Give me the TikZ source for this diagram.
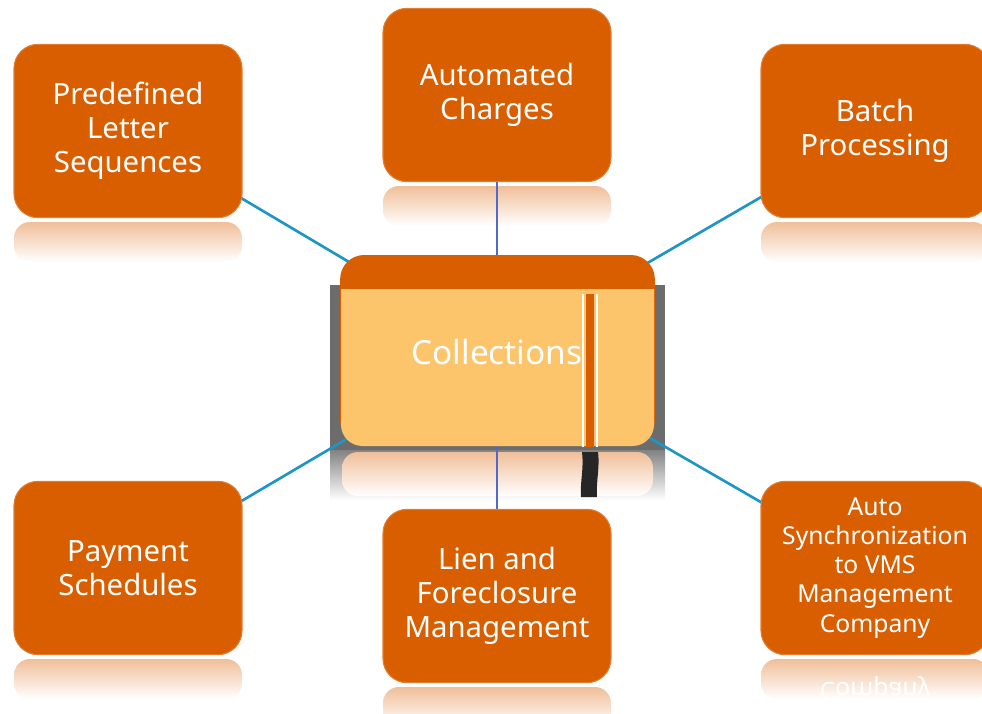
\documentclass[tikz,border=0pt]{standalone}
\usepackage{fontspec}
\setmainfont{Noto Sans}
\usetikzlibrary{backgrounds}
\definecolor{boxorange}{RGB}{217,94,0}
\definecolor{paleorange}{RGB}{252,197,107}
\definecolor{spokecol}{RGB}{30,150,196}
\definecolor{stemcol}{RGB}{84,104,204}
\definecolor{hubgray}{RGB}{108,108,108}

\begin{document}
\begin{tikzpicture}[x=.75pt,y=-.75pt]
\tikzset{every node/.style={align=center, text=white, inner sep=0pt, outer sep=0pt}}
\tikzset{topic/.style={fill=boxorange, draw=boxorange!80!white, line width=.8pt, rounded corners=18pt, minimum width=171pt, minimum height=130pt, font=\fontsize{22}{25.5}\selectfont}}
\tikzset{mirror/.style={top color=boxorange!40, bottom color=white, rounded corners=12pt, minimum width=171pt, minimum height=30pt}}
\tikzset{spoke/.style={draw=spokecol, line width=2pt}}
\tikzset{stem/.style={draw=stemcol, line width=1.6pt}}
\useasboundingbox (0,0) rectangle (982,714);
\clip (0,0) rectangle (982,714);

%%%%%% outer topics
\node(letters)at(128,131)[topic]{Predefined\\Letter\\Sequences};
\node(charges)at(497,95)[topic]{Automated\\Charges};
\node(batch)at(875,131)[topic]{Batch\\Processing};
\node(payment)at(128,568)[topic]{Payment\\Schedules};
\node(lien)at(497,596)[topic]{Lien and\\Foreclosure\\Management};
\node(vms)at(875,568)[topic,font=\fontsize{18.5}{21.8}\selectfont]{Auto\\Synchronization\\to VMS\\Management\\Company};

%%%%%% central topic
\node(hub)at(497.5,350)[fill=boxorange,rounded corners=18pt,minimum width=236pt,minimum height=142.5pt]{};
\fill[paleorange] (341,289) [rounded corners=16pt] -- (341,446) -- (654,446) [sharp corners] -- (654,289) -- cycle;
\fill[boxorange] (586,294) rectangle (594,447);
\draw[white,line width=1pt] (583,294) -- (583,447) (597,294) -- (597,447);
\node(hubtext)at(497,352)[font=\fontsize{25}{30}\selectfont]{Collections};

%%%%%% reflections, gray backing and spokes
\begin{scope}[on background layer]
\node(hubback)at(497.5,367.5)[fill=hubgray,minimum width=251pt,minimum height=124pt]{};
\shade[top color=hubgray!85, bottom color=white] (330,450) rectangle (665,500);
\shade[top color=boxorange!40, bottom color=white, rounded corners=12pt] (342,452) rectangle (653,496);
\fill[black!85] (582,452) .. controls (584,470) and (580,480) .. (581,497) -- (597,497) .. controls (596,480) and (600,468) .. (598,452) -- cycle;
\node(letters-m)at(128,242)[mirror]{};
\node(charges-m)at(497,206)[mirror]{};
\node(batch-m)at(875,242)[mirror]{};
\node(payment-m)at(128,679)[mirror]{};
\node(lien-m)at(497,707)[mirror]{};
\node(vms-m)at(875,679)[mirror]{};
\node(vms-t)at(875,688)[yscale=-1,text=white,font=\fontsize{18.5}{21.8}\selectfont]{Company};
\draw[spoke] (letters.center) -- (hub.center);
\draw[spoke] (batch.center) -- (hub.center);
\draw[spoke] (payment.center) -- (hub.center);
\draw[spoke] (vms.center) -- (hub.center);
\draw[stem] (charges.center) -- (hubtext.center);
\draw[stem] (lien.center) -- (hubtext.center);
\end{scope}
\end{tikzpicture}
\end{document}
